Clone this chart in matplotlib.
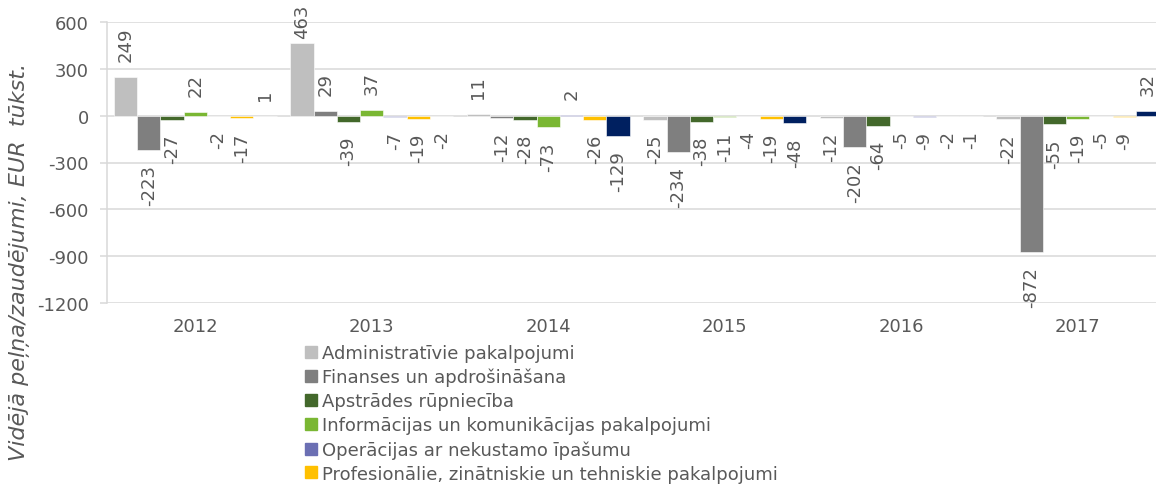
import numpy as np
import matplotlib.pyplot as plt
from matplotlib.lines import Line2D

plt.rcParams['axes.unicode_minus'] = False

years = ['2012', '2013', '2014', '2015', '2016', '2017']

series_names = [
    'Administratīvie pakalpojumi',
    'Finanses un apdrošināšana',
    'Apstrādes rūpniecība',
    'Informācijas un komunikācijas pakalpojumi',
    'Operācijas ar nekustamo īpašumu',
    'Profesionālie, zinātniskie un tehniskie pakalpojumi',
    None,  # 7th series, its legend entry is cut off in the source
]
colors = ['#bfbfbf', '#7f7f7f', '#43682b', '#7ab733', '#6b6fb3', '#ffc000', '#002060']

admin = [249, 463, 11, -25, -12, -22]
finanses = [-223, 29, -12, -234, -202, -872]
apstrades = [-27, -39, -28, -38, -64, -55]
info = [22, 37, -73, -11, -5, -19]
operacijas = [-2, -7, 2, -4, -9, -5]
profes = [-17, -19, -26, -19, -2, -9]
seventh = [1, -2, -129, -48, -1, 32]

values = [admin, finanses, apstrades, info, operacijas, profes, seventh]

txt = '#595959'
grid = '#d9d9d9'
fs = 13

H = 485
ax_top, ax_h = 23, 281
ymin, ymax = -1200, 600

fig = plt.figure(figsize=(11.56, 4.85), dpi=100)
ax = fig.add_axes([107 / 1156, (H - ax_top - ax_h) / H, 1059 / 1156, ax_h / H])

x = np.arange(len(years))
w = 0.132
for i, (vals, c) in enumerate(zip(values, colors)):
    pos = x + (i - 3) * w
    ax.bar(pos, vals, w, color=c, edgecolor='white', linewidth=0.4, zorder=3)
    for p, v in zip(pos, vals):
        if v >= 0:
            # keep tall labels inside the picture, like Excel does
            top_px = ax_top + (ymax - v) * ax_h / (ymax - ymin)
            off = min(16, top_px - 39)
        else:
            off = -14
        ax.annotate(str(v), (p, v), xytext=(0, off), textcoords='offset pixels',
                    rotation=90, ha='center', va='bottom' if v >= 0 else 'top',
                    fontsize=fs, color=txt, zorder=4)

ax.set_xlim(-0.5, len(years) - 0.5)
ax.set_ylim(ymin, ymax)
ax.set_yticks(np.arange(ymin, ymax + 1, 300))
ax.set_xticks(x)
ax.set_xticklabels(years)
ax.yaxis.grid(True, color=grid, linewidth=1.1, zorder=0)
ax.set_axisbelow(True)
for s in ['top', 'right', 'bottom']:
    ax.spines[s].set_visible(False)
ax.spines['left'].set_color(grid)
ax.spines['left'].set_linewidth(1.1)
ax.tick_params(axis='y', colors=txt, labelsize=fs, length=5, width=1.1, color=grid, pad=8)
ax.tick_params(axis='x', colors=txt, labelsize=fs, length=0, pad=10)

fig.text(20 / 1156, 1 - 262 / H, 'Vidējā peļņa/zaudējumi, EUR  tūkst.', rotation=90,
         style='italic', fontsize=16, color=txt, ha='center', va='center')

handles = [Line2D([], [], marker='s', linestyle='none', markersize=9, color=c)
           for n, c in zip(series_names, colors) if n is not None]
labels = [n for n in series_names if n is not None]
fig.legend(handles, labels, loc='upper left', bbox_to_anchor=(304 / 1156, 1 - 345 / H),
           frameon=False, fontsize=fs, labelcolor=txt, handlelength=0.8,
           handletextpad=0.2, labelspacing=0.33, borderaxespad=0, borderpad=0)

fig.savefig('out.png', dpi=100)
